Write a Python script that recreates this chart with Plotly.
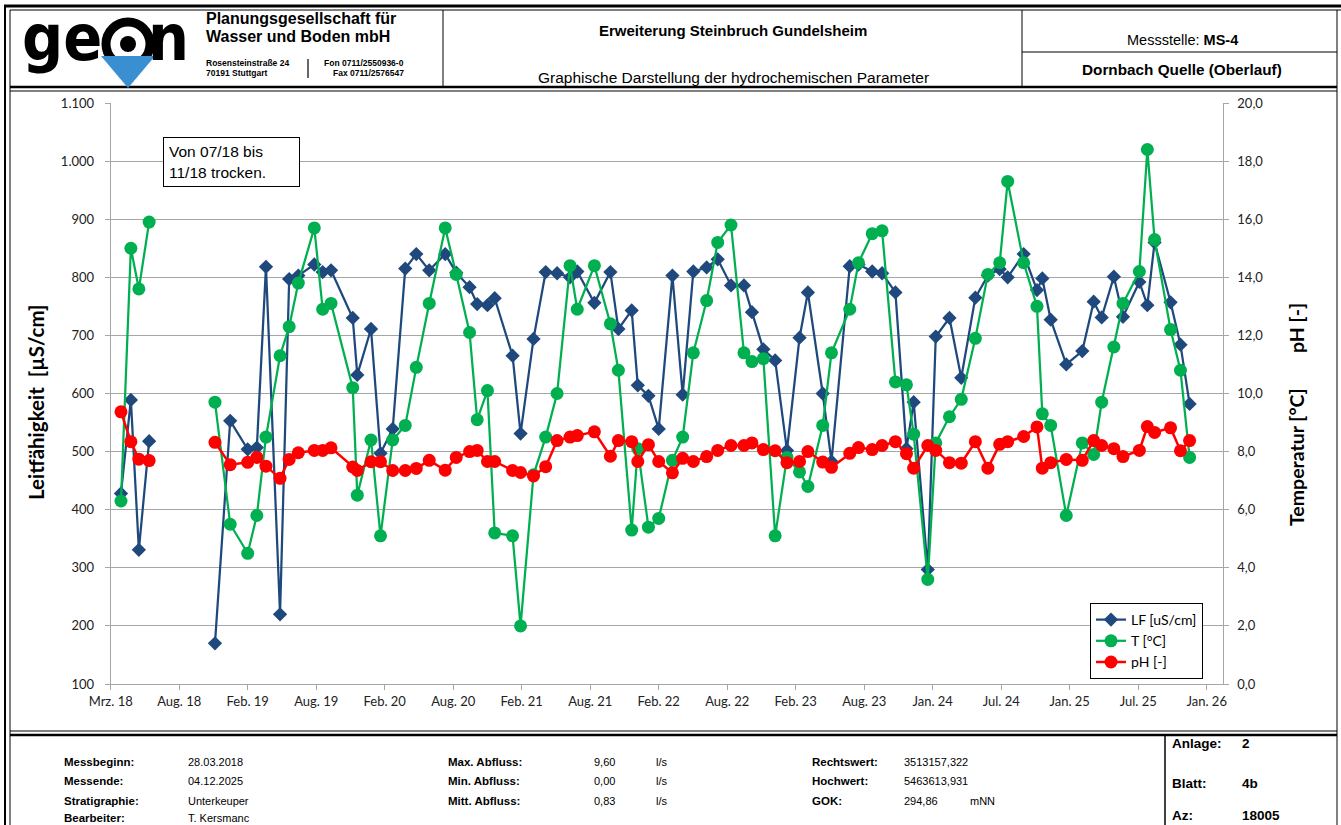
import plotly.graph_objects as go

W, H = 1341, 825

# Messstelle MS-4, Dornbach Quelle (Oberlauf)
dates = [
    "2018-03-28", "2018-04-23", "2018-05-14", "2018-06-10",
    "2018-09-01",  # trocken -> Luecke
    "2018-11-30", "2019-01-09", "2019-02-24", "2019-03-20", "2019-04-13", "2019-05-20", "2019-06-13",
    "2019-07-07", "2019-08-18", "2019-09-09", "2019-10-01", "2019-11-27", "2019-12-09",
    "2020-01-14", "2020-02-08", "2020-03-11", "2020-04-13", "2020-05-12", "2020-06-15",
    "2020-07-27", "2020-08-25", "2020-09-29", "2020-10-19", "2020-11-15", "2020-12-04",
    "2021-01-20", "2021-02-10", "2021-03-16", "2021-04-17", "2021-05-17", "2021-06-20",
    "2021-07-09", "2021-08-23", "2021-10-04", "2021-10-25", "2021-11-29", "2021-12-15",
    "2022-01-12", "2022-02-08", "2022-03-16", "2022-04-12", "2022-05-10", "2022-06-14",
    "2022-07-13", "2022-08-17", "2022-09-20", "2022-10-11", "2022-11-10", "2022-12-11",
    "2023-01-11", "2023-02-13", "2023-03-07", "2023-04-15", "2023-05-08", "2023-06-25",
    "2023-07-18", "2023-08-23", "2023-09-18", "2023-10-23", "2023-11-21", "2023-12-10",
    "2024-01-16", "2024-02-06", "2024-03-13", "2024-04-13", "2024-05-20", "2024-06-22",
    "2024-07-23", "2024-08-13", "2024-09-24", "2024-10-29", "2024-11-12", "2024-12-04",
    "2025-01-14", "2025-02-25", "2025-03-27", "2025-04-17", "2025-05-19", "2025-06-12",
    "2025-07-25", "2025-08-15", "2025-09-03", "2025-10-15", "2025-11-10", "2025-12-04",
]

lf = [
    428, 589, 331, 518,
    None,
    170, 553, 504, 507, 818, 220, 797, 803, 822, 809, 812, 730, 632,
    711, 497, 539, 815, 840, 812, 840, 808, 783, 754, 752, 764,
    665, 531, 694, 809, 807, 800, 810, 756, 809, 711, 743, 614,
    596, 539, 803, 598, 810, 817, 831, 786, 786, 740, 676, 657,
    502, 696, 774, 600, 483, 819, 822, 810, 807, 774, 505, 585,
    297, 698, 730, 627, 765, 803, 814, 800, 840, 778, 798, 727,
    650, 673, 758, 731, 801, 732, 792, 752, 860, 757, 684, 582,
]

temp = [
    6.3, 15.0, 13.6, 15.9,
    None,
    9.7, 5.5, 4.5, 5.8, 8.5, 11.3, 12.3, 13.8, 15.7, 12.9, 13.1, 10.2, 6.5,
    8.4, 5.1, 8.4, 8.9, 10.9, 13.1, 15.7, 14.1, 12.1, 9.1, 10.1, 5.2,
    5.1, 2.0, 7.2, 8.5, 10.0, 14.4, 12.9, 14.4, 12.4, 10.8, 5.3, 8.1,
    5.4, 5.7, 7.7, 8.5, 11.4, 13.2, 15.2, 15.8, 11.4, 11.1, 11.2, 5.1,
    7.8, 7.3, 6.8, 8.9, 11.4, 12.9, 14.5, 15.5, 15.6, 10.4, 10.3, 8.6,
    3.6, 8.3, 9.2, 9.8, 11.9, 14.1, 14.5, 17.3, 14.5, 13.0, 9.3, 8.9,
    5.8, 8.3, 7.9, 9.7, 11.6, 13.1, 14.2, 18.4, 15.3, 12.2, 10.8, 7.8,
]

ph = [
    9.37, 8.34, 7.74, 7.69,
    None,
    8.32, 7.55, 7.63, 7.80, 7.50, 7.08, 7.73, 7.96, 8.04, 8.04, 8.13, 7.47, 7.35,
    7.65, 7.65, 7.35, 7.35, 7.42, 7.70, 7.36, 7.80, 8.00, 8.04, 7.66, 7.66,
    7.35, 7.28, 7.16, 7.48, 8.38, 8.50, 8.55, 8.68, 7.84, 8.38, 8.34, 7.66,
    8.24, 7.66, 7.27, 7.77, 7.66, 7.83, 8.04, 8.21, 8.21, 8.30, 8.07, 8.03,
    7.62, 7.66, 8.00, 7.64, 7.46, 7.94, 8.14, 8.07, 8.21, 8.34, 7.93, 7.43,
    8.21, 8.04, 7.62, 7.60, 8.34, 7.43, 8.25, 8.34, 8.52, 8.85, 7.43, 7.62,
    7.73, 7.70, 8.38, 8.21, 8.10, 7.83, 8.04, 8.86, 8.66, 8.82, 8.03, 8.38,
]

x_ticks = [
    "2018-03-01", "2018-08-28", "2019-02-24", "2019-08-23", "2020-02-19", "2020-08-17",
    "2021-02-13", "2021-08-12", "2022-02-08", "2022-08-07", "2023-02-03", "2023-08-02",
    "2024-01-29", "2024-07-27", "2025-01-23", "2025-07-22", "2026-01-18",
]
x_labels = [
    "Mrz. 18", "Aug. 18", "Feb. 19", "Aug. 19", "Feb. 20", "Aug. 20", "Feb. 21", "Aug. 21",
    "Feb. 22", "Aug. 22", "Feb. 23", "Aug. 23", "Jan. 24", "Jul. 24", "Jan. 25", "Jul. 25", "Jan. 26",
]
lf_ticks = [100, 200, 300, 400, 500, 600, 700, 800, 900, 1000, 1100]
lf_labels = ["100", "200", "300", "400", "500", "600", "700", "800", "900", "1.000", "1.100"]
r_ticks = [0, 2, 4, 6, 8, 10, 12, 14, 16, 18, 20]
r_labels = ["0,0", "2,0", "4,0", "6,0", "8,0", "10,0", "12,0", "14,0", "16,0", "18,0", "20,0"]

BLUE = "#1F497D"
GREEN = "#00B050"
RED = "#FF0000"
GRID = "#A6A6A6"
FONT = "Lato, Open Sans, sans-serif"
HFONT = "Liberation Sans, Arial, sans-serif"
LOGO = "DejaVu Sans Condensed, DejaVu Sans, sans-serif"


def px(x):
    return x / W


def py(y):
    return 1 - y / H


fig = go.Figure()
fig.add_trace(go.Scatter(
    x=dates, y=lf, name="LF [uS/cm]", mode="lines+markers",
    line=dict(color=BLUE, width=2.25),
    marker=dict(symbol="diamond", size=11, color=BLUE),
))
fig.add_trace(go.Scatter(
    x=dates, y=temp, name="T [°C]", mode="lines+markers", yaxis="y2",
    line=dict(color=GREEN, width=2.25),
    marker=dict(symbol="circle", size=13, color=GREEN),
))
fig.add_trace(go.Scatter(
    x=dates, y=ph, name="pH [-]", mode="lines+markers", yaxis="y2",
    line=dict(color=RED, width=2.5),
    marker=dict(symbol="circle", size=13, color=RED),
))


def hline(y, x0, x1, w=1):
    return dict(type="line", xref="paper", yref="paper", x0=px(x0), x1=px(x1),
                y0=py(y), y1=py(y), line=dict(color="black", width=w))


def vline(x, y0, y1, w=1):
    return dict(type="line", xref="paper", yref="paper", x0=px(x), x1=px(x),
                y0=py(y0), y1=py(y1), line=dict(color="black", width=w))


shapes = [
    # Rahmen
    hline(6, 4, 1341, 3), hline(10, 10, 1341, 1),
    vline(5, 6, 825, 2), vline(10, 10, 825, 1),
    vline(1337, 10, 825, 1),
    # Kopf
    vline(443, 10, 88, 1), vline(1022, 10, 88, 1),
    hline(52, 1022, 1337, 1),
    hline(87, 10, 1337, 2.5), hline(91, 10, 1337, 1),
    # Fuss
    hline(731, 10, 1337, 1), hline(735, 10, 1337, 2.5),
    vline(1165, 735, 825, 1.5),
    # Logo
    dict(type="circle", xref="paper", yref="paper", x0=px(106), x1=px(150), y0=py(22), y1=py(66),
         fillcolor="white", line=dict(color="black", width=9)),
    dict(type="path", xref="paper", yref="paper",
         path=f"M {px(101)},{py(56)} L {px(155)},{py(56)} L {px(128)},{py(88)} Z",
         fillcolor="#3A8FD0", line=dict(width=0)),
    dict(type="circle", xref="paper", yref="paper", x0=px(120), x1=px(136), y0=py(36), y1=py(52),
         fillcolor="black", line=dict(width=0)),
    vline(308, 59, 78, 1.2),
]


def txt(x, y, s, size, font=HFONT, xanchor="left", color="black", **kw):
    return dict(x=px(x), y=py(y), xref="paper", yref="paper", text=s, showarrow=False,
                xanchor=xanchor, yanchor="middle", font=dict(family=font, size=size, color=color), **kw)


annotations = [
    # Logo
    txt(104, 38, "<b>ge</b>", 64, font=LOGO, xanchor="right"),
    txt(146, 38, "<b>n</b>", 64, font=LOGO),
    txt(204, 18, "<b>Planungsgesellschaft für</b>", 16),
    txt(204, 37, "<b>Wasser und Boden mbH</b>", 16),
    txt(204, 63, "<b>Rosensteinstraße 24</b>", 8.5),
    txt(204, 73, "<b>70191 Stuttgart</b>", 8.5),
    txt(406, 63, "<b>Fon 0711/2550936-0</b>", 8.5, xanchor="right"),
    txt(406, 73, "<b>Fax 0711/2576547</b>", 8.5, xanchor="right"),
    # Titel
    txt(733, 30, "<b>Erweiterung Steinbruch Gundelsheim</b>", 15, xanchor="center"),
    txt(733, 78, "Graphische Darstellung der hydrochemischen Parameter", 15.5, xanchor="center"),
    txt(1182, 40, "Messstelle: <b>MS-4</b>", 14.5, xanchor="center"),
    txt(1182, 70, "<b>Dornbach Quelle (Oberlauf)</b>", 15.3, xanchor="center"),
    # Achsentitel
    txt(36, 402, "<b>Leitfähigkeit  [µS/cm]</b>", 20.5, font=FONT, xanchor="center", textangle=-90),
    txt(1296, 328, "<b>pH [-]</b>", 19.5, font=FONT, xanchor="center", textangle=-90),
    txt(1296, 457, "<b>Temperatur [°C]</b>", 19.5, font=FONT, xanchor="center", textangle=-90),
    # Hinweis
    dict(x=px(163), y=py(137), xref="paper", yref="paper", xanchor="left", yanchor="top",
         text="Von 07/18 bis<br>11/18 trocken.", showarrow=False, align="left",
         width=125, height=38, borderpad=5, bordercolor="black", borderwidth=1, bgcolor="white",
         font=dict(family=HFONT, size=15.5, color="black")),
    # Fuss
    txt(62, 762, "<b>Messbeginn:</b>", 11.5),
    txt(62, 781, "<b>Messende:</b>", 11.5),
    txt(62, 801, "<b>Stratigraphie:</b>", 11.5),
    txt(62, 818, "<b>Bearbeiter:</b>", 11.5),
    txt(186, 762, "28.03.2018", 11),
    txt(186, 781, "04.12.2025", 11),
    txt(186, 801, "Unterkeuper", 11),
    txt(186, 818, "T. Kersmanc", 11),
    txt(446, 762, "<b>Max. Abfluss:</b>", 11.5),
    txt(446, 781, "<b>Min. Abfluss:</b>", 11.5),
    txt(446, 801, "<b>Mitt. Abfluss:</b>", 11.5),
    txt(617, 762, "9,60", 11, xanchor="right"),
    txt(617, 781, "0,00", 11, xanchor="right"),
    txt(617, 801, "0,83", 11, xanchor="right"),
    txt(654, 762, "l/s", 11),
    txt(654, 781, "l/s", 11),
    txt(654, 801, "l/s", 11),
    txt(810, 762, "<b>Rechtswert:</b>", 11.5),
    txt(810, 781, "<b>Hochwert:</b>", 11.5),
    txt(810, 801, "<b>GOK:</b>", 11.5),
    txt(902, 762, "3513157,322", 11),
    txt(902, 781, "5463613,931", 11),
    txt(902, 801, "294,86", 11),
    txt(968, 801, "mNN", 11),
    txt(1170, 743, "<b>Anlage:</b>", 13.5),
    txt(1170, 783, "<b>Blatt:</b>", 13.5),
    txt(1170, 815, "<b>Az:</b>", 13.5),
    txt(1240, 743, "<b>2</b>", 13.5),
    txt(1240, 783, "<b>4b</b>", 13.5),
    txt(1240, 815, "<b>18005</b>", 13.5),
]

fig.update_layout(
    width=W, height=H,
    margin=dict(l=0, r=0, t=0, b=0, autoexpand=False),
    paper_bgcolor="white", plot_bgcolor="white",
    showlegend=True,
    legend=dict(x=px(1090), y=py(603), xanchor="left", yanchor="top",
                bordercolor="black", borderwidth=1, bgcolor="white",
                font=dict(family=FONT, size=14, color="black")),
    xaxis=dict(domain=[px(110.7), px(1222.7)], type="date", automargin=False,
               range=["2018-03-01", "2026-03-01"],
               tickmode="array", tickvals=x_ticks, ticktext=x_labels,
               ticks="outside", ticklen=5, tickcolor=GRID,
               showline=True, linecolor=GRID, showgrid=False, zeroline=False,
               tickfont=dict(family=FONT, size=13, color="#222")),
    yaxis=dict(domain=[py(684), py(103)], range=[100, 1100], automargin=False,
               tickmode="array", tickvals=lf_ticks, ticktext=lf_labels,
               ticks="outside", ticklen=5, tickcolor=GRID, ticklabelstandoff=8,
               showline=True, linecolor=GRID, gridcolor=GRID, zeroline=False,
               tickfont=dict(family=FONT, size=13, color="#222")),
    yaxis2=dict(overlaying="y", side="right", anchor="x", range=[0, 20], automargin=False,
                tickmode="array", tickvals=r_ticks, ticktext=r_labels,
                ticks="outside", ticklen=5, tickcolor=GRID, ticklabelstandoff=6,
                showline=True, linecolor=GRID, showgrid=False, zeroline=False,
                tickfont=dict(family=FONT, size=13, color="#222")),
    shapes=shapes,
    annotations=annotations,
)

fig.write_html(
    "out.html",
    config={"displayModeBar": False},
    post_script="document.body.style.margin='0';document.body.style.overflow='hidden';",
)
